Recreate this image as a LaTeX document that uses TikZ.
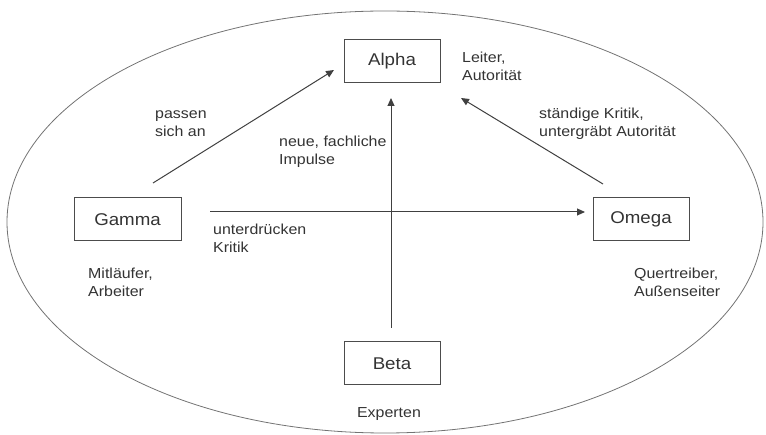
\documentclass[tikz,border=0pt]{standalone}
\usepackage{fontspec}
\setmainfont[FakeStretch=1.1]{Liberation Sans}
\usetikzlibrary{arrows.meta}
\begin{document}
\begin{tikzpicture}[x=1pt,y=-1pt,
 box/.style={draw=black!70, line width=1pt, minimum width=96pt, minimum height=43pt, inner sep=0pt, font=\fontsize{17}{20}\selectfont, text=black!80},
 lbl/.style={align=left, anchor=west, font=\fontsize{14.5}{18}\selectfont, text=black!80, inner sep=0pt},
 arr/.style={draw=black!75, line width=1pt, -{Triangle[length=8pt,width=7pt]}}]
\useasboundingbox (0,0) rectangle (766,435);
\draw[black!55, line width=0.8pt] (385,222) ellipse [x radius=378, y radius=211];
% boxes
\node[box] (alpha) at (392,61.5) {Alpha};
\node[box, minimum width=107pt] (gamma) at (127.5,219.5) {Gamma};
\node[box] (omega) at (641,219.5) {Omega};
\node[box] (beta) at (392,363.5) {Beta};
% labels
\node[lbl] (leiter) at (462,66) {Leiter,\\Autorität};
\node[lbl] (passen) at (155,124) {passen\\sich an};
\node[lbl] (neue) at (279,152) {neue, fachliche\\Impulse};
\node[lbl] (staendig) at (539,124) {ständige Kritik,\\untergräbt Autorität};
\node[lbl] (unter) at (213,238) {unterdrücken\\Kritik};
\node[lbl] (mit) at (88,282) {Mitläufer,\\Arbeiter};
\node[lbl] (quer) at (634,282) {Quertreiber,\\Außenseiter};
\node[lbl, anchor=center] (exp) at (389,414) {Experten};
% connector end points
\coordinate (g1) at (153,183);
\coordinate (a1) at (334,70);
\coordinate (b1) at (391,328);
\coordinate (a2) at (391,98);
\coordinate (o1) at (603,184);
\coordinate (a3) at (461,98);
\coordinate (g2) at (210,212);
\coordinate (o2) at (585,212);
% connectors
\draw[arr] (g1) -- (a1);
\draw[arr] (b1) -- (a2);
\draw[arr] (o1) -- (a3);
\draw[arr] (g2) -- (o2);
\end{tikzpicture}
\end{document}
